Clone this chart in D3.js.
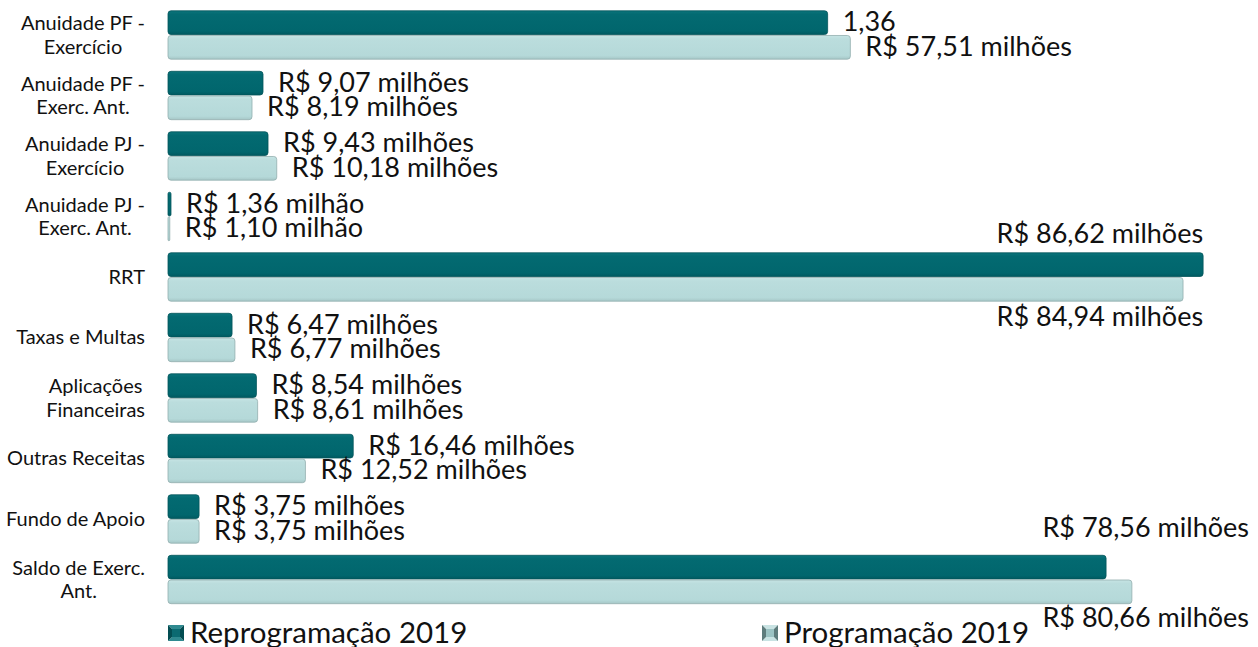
<!DOCTYPE html>
<html>
<head>
<meta charset="utf-8">
<script src="https://cdn.jsdelivr.net/npm/d3@7"></script>
<style>
  html, body { margin: 0; padding: 0; background: #fff; }
  .cat { font-family: Lato, "Open Sans", sans-serif; font-size: 20px; fill: #111; }
  .val { font-family: Lato, "Open Sans", sans-serif; font-size: 27px; fill: #111; }
  .leg { font-family: Lato, "Open Sans", sans-serif; font-size: 29.5px; fill: #111; }
</style>
</head>
<body>
<svg width="1258" height="647"></svg>
<script>
var width = 1258,
    height = 647;

var categories = [
  "Anuidade PF -\nExercício",
  "Anuidade PF -\nExerc. Ant.",
  "Anuidade PJ -\nExercício",
  "Anuidade PJ -\nExerc. Ant.",
  "RRT",
  "Taxas e Multas",
  "Aplicações\nFinanceiras",
  "Outras Receitas",
  "Fundo de Apoio",
  "Saldo de Exerc.\nAnt."
];

var series = ["Reprogramação 2019", "Programação 2019"];

// bar lengths as drawn (R$ milhões)
var reprogramacao = [55.2, 7.95, 8.37, 0.25, 86.62, 5.36, 7.4, 15.5, 2.6, 78.5];
var programacao   = [57.1, 7.03, 9.1, 0.15, 84.94, 5.6, 7.5, 11.5, 2.6, 80.66];

// labels as printed in the chart
var reprogramacaoLabels = ["1,36", "R$ 9,07 milhões", "R$ 9,43 milhões", "R$ 1,36 milhão",
  "R$ 86,62 milhões", "R$ 6,47 milhões", "R$ 8,54 milhões", "R$ 16,46 milhões",
  "R$ 3,75 milhões", "R$ 78,56 milhões"];
var programacaoLabels = ["R$ 57,51 milhões", "R$ 8,19 milhões", "R$ 10,18 milhões", "R$ 1,10 milhão",
  "R$ 84,94 milhões", "R$ 6,77 milhões", "R$ 8,61 milhões", "R$ 12,52 milhões",
  "R$ 3,75 milhões", "R$ 80,66 milhões"];

// where the value labels sit: beside the bar, or stacked above/below it
var labelMode = ["side", "side", "side", "side", "stack", "side", "side", "side", "side", "edge"];

var svg = d3.select("svg");
var defs = svg.append("defs");

function grad(id, stops) {
  var g = defs.append("linearGradient").attr("id", id)
      .attr("x1", 0).attr("y1", 0).attr("x2", 0).attr("y2", 1);
  stops.forEach(function(s) {
    g.append("stop").attr("offset", s[0]).attr("stop-color", s[1]);
  });
}
grad("gDark", [[0, "#0b747b"], [0.15, "#036a71"], [0.85, "#01666d"], [1, "#005960"]]);
grad("gLight", [[0, "#c6e4e4"], [0.15, "#bbdddd"], [0.85, "#b5d9d9"], [1, "#a6c7c7"]]);

var x = d3.scaleLinear()
    .domain([0, 100])
    .range([168, 1363]);

var y = d3.scaleBand()
    .domain(categories)
    .range([4.75, 609.75])
    .paddingInner(0.2)
    .paddingOuter(0.1);

var ys = d3.scaleBand()
    .domain(series)
    .range([0, y.bandwidth()])
    .paddingInner(0.04);

var rows = categories.map(function(c, i) {
  return {
    cat: c,
    mode: labelMode[i],
    bars: [
      {s: series[0], v: reprogramacao[i], label: reprogramacaoLabels[i], fill: "url(#gDark)", stroke: "#04555b"},
      {s: series[1], v: programacao[i], label: programacaoLabels[i], fill: "url(#gLight)", stroke: "#93afaf"}
    ]
  };
});

var group = svg.selectAll(".row")
    .data(rows)
    .enter().append("g")
    .attr("class", "row")
    .attr("transform", function(d) { return "translate(0," + y(d.cat) + ")"; });

group.selectAll("rect")
    .data(function(d) { return d.bars; })
    .enter().append("rect")
    .attr("x", x(0))
    .attr("y", function(d) { return ys(d.s); })
    .attr("width", function(d) { return Math.max(1.5, x(d.v) - x(0)); })
    .attr("height", ys.bandwidth())
    .attr("rx", function(d) { return Math.min(3, (x(d.v) - x(0)) / 2); })
    .style("fill", function(d) { return d.fill; })
    .style("stroke", function(d) { return d.stroke; })
    .style("stroke-width", 0.8);

// value labels
group.each(function(row) {
  var g = d3.select(this),
      groupEnd = d3.max(row.bars, function(b) { return x(b.v); });
  row.bars.forEach(function(b, k) {
    var t = g.append("text").attr("class", "val").text(b.label);
    var top = ys(b.s), bottom = top + ys.bandwidth();
    if (row.mode === "side") {
      t.attr("x", x(b.v) + 15).attr("y", top + ys.bandwidth() / 2 + 8.5);
    } else if (row.mode === "stack") {
      t.attr("text-anchor", "end").attr("x", groupEnd)
        .attr("y", k === 0 ? top - 10 : bottom + 25);
    } else {
      t.attr("text-anchor", "end").attr("x", width - 9)
        .attr("y", k === 0 ? top - 18 : bottom + 23);
    }
  });
});

// category labels: block right-aligned at 145, lines centred in the block
group.each(function(row) {
  var g = d3.select(this),
      lines = row.cat.split("\n"),
      cy = y.bandwidth() / 2,
      lh = 24;
  var texts = lines.map(function(l, i) {
    return g.append("text").attr("class", "cat")
        .attr("text-anchor", "middle")
        .attr("y", cy + 7 + (i - (lines.length - 1) / 2) * lh)
        .text(l);
  });
  var maxW = d3.max(texts, function(t) { return t.node().getComputedTextLength(); });
  texts.forEach(function(t) { t.attr("x", 145 - maxW / 2); });
});

// legend with bevelled squares
var legendX = [168, 762];
var legendCol = [
  {light: "#2f8a90", dark: "#034d52", mid: "#0b6a71"},
  {light: "#c9e3e3", dark: "#5e7c7c", mid: "#9cc3c3"}
];

var legend = svg.selectAll(".legend")
    .data(series)
    .enter().append("g")
    .attr("class", "legend")
    .attr("transform", function(d, i) { return "translate(" + legendX[i] + ",625)"; });

legend.each(function(d, i) {
  var g = d3.select(this), s = 16, b = 4, c = legendCol[i];
  g.append("path").attr("d", "M0,0L" + s + ",0L" + (s - b) + "," + b + "L" + b + "," + b + "Z").style("fill", c.light);
  g.append("path").attr("d", "M0," + s + "L" + s + "," + s + "L" + (s - b) + "," + (s - b) + "L" + b + "," + (s - b) + "Z").style("fill", c.light);
  g.append("path").attr("d", "M0,0L" + b + "," + b + "L" + b + "," + (s - b) + "L0," + s + "Z").style("fill", c.dark);
  g.append("path").attr("d", "M" + s + ",0L" + (s - b) + "," + b + "L" + (s - b) + "," + (s - b) + "L" + s + "," + s + "Z").style("fill", c.dark);
  g.append("rect").attr("x", b).attr("y", b).attr("width", s - 2 * b).attr("height", s - 2 * b).style("fill", c.mid);
  g.append("text").attr("class", "leg").attr("x", 22).attr("y", 18).text(d);
});
</script>
</body>
</html>
